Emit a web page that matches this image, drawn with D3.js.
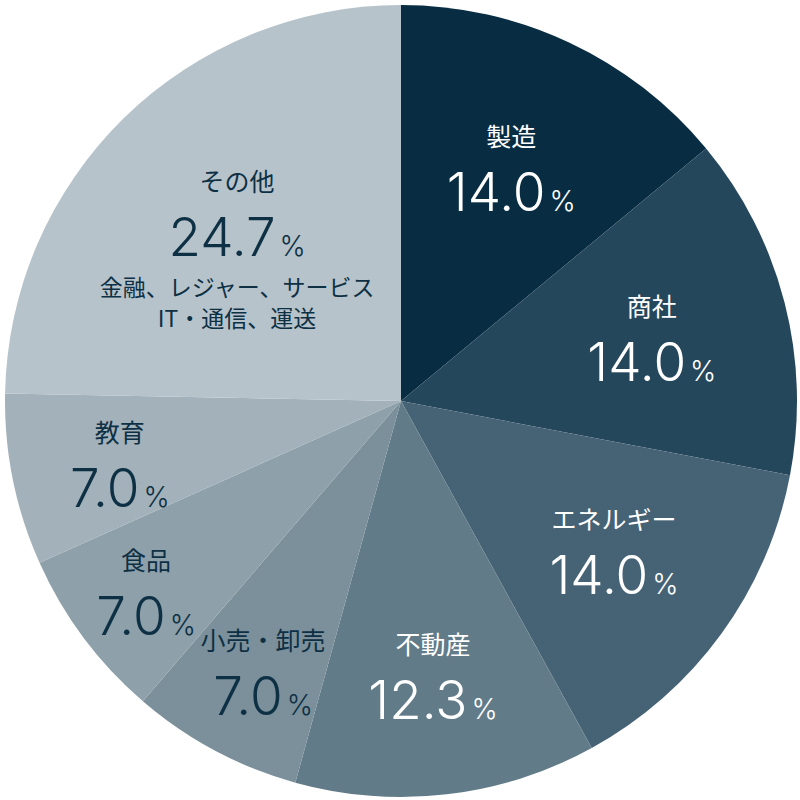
<!DOCTYPE html>
<html>
<head>
<meta charset="utf-8">
<script src="https://cdn.jsdelivr.net/npm/d3@7"></script>
<style>
  body { margin: 0; background: #ffffff; }
  svg { display: block; }
  .cat { font-family: "Noto Sans CJK JP", sans-serif; font-size: 25px; }
  .num { font-family: Inter, "Noto Sans", sans-serif; font-weight: 300; font-size: 53px; }
  .pct { font-size: 28px; }
  .sub { font-family: "Noto Sans CJK JP", sans-serif; font-size: 23px; }
</style>
</head>
<body>
<div id="chart"></div>
<script>
// data
const categories = ["製造", "商社", "エネルギー", "不動産", "小売・卸売", "食品", "教育", "その他"];
const shares = [14.0, 14.0, 14.0, 12.3, 7.0, 7.0, 7.0, 24.7];
const otherNotes = ["金融、レジャー、サービス", "IT・通信、運送"];

// look
const sliceColors = ["#082d43", "#25475c", "#466376", "#627b89", "#7b909b", "#8ea0aa", "#a2b1ba", "#b6c3cb"];
const textColors = ["#ffffff", "#ffffff", "#ffffff", "#ffffff", "#0e3044", "#0e3044", "#0e3044", "#0e3044"];
const labelRadius = [259, 259, 260, 276, 303, 318, 288, 250];
const labelShift = [0, 0, -1, 0, -1, 0, -1, 3.5]; // degrees

const width = 800, height = 800;
const cx = 401, cy = 401, radius = 396;

const svg = d3.select("#chart").append("svg")
    .attr("width", width)
    .attr("height", height);

const g = svg.append("g").attr("transform", `translate(${cx},${cy})`);

const pie = d3.pie().sort(null).value(d => d.v);
const arcs = pie(categories.map((c, i) => ({c: c, v: shares[i], i: i})));

const arc = d3.arc().innerRadius(0).outerRadius(radius);

g.selectAll("path.slice")
    .data(arcs)
    .enter()
    .append("path")
    .attr("class", "slice")
    .attr("d", arc)
    .attr("fill", d => sliceColors[d.data.i]);

// labels
const labels = g.selectAll("g.lab")
    .data(arcs)
    .enter()
    .append("g")
    .attr("class", "lab")
    .attr("transform", d => {
        const a = (d.startAngle + d.endAngle) / 2 + labelShift[d.data.i] * Math.PI / 180;
        const r = labelRadius[d.data.i];
        return `translate(${r * Math.sin(a)},${-r * Math.cos(a)})`;
    });

labels.append("text")
    .attr("class", "cat")
    .attr("text-anchor", "middle")
    .attr("y", -21)
    .attr("fill", d => textColors[d.data.i])
    .text(d => d.data.c);

const nums = labels.append("text")
    .attr("class", "num")
    .attr("text-anchor", "middle")
    .attr("y", 44)
    .attr("fill", d => textColors[d.data.i]);
nums.append("tspan").text(d => d.data.v.toFixed(1));
nums.append("tspan").attr("class", "pct").attr("dx", 4).text("%");

// extra notes under その他
const other = labels.filter(d => d.data.c === "その他");
other.selectAll("text.sub")
    .data(otherNotes)
    .enter()
    .append("text")
    .attr("class", "sub")
    .attr("text-anchor", "middle")
    .attr("y", (d, i) => 84 + i * 31)
    .attr("fill", textColors[7])
    .text(d => d);
</script>
</body>
</html>
